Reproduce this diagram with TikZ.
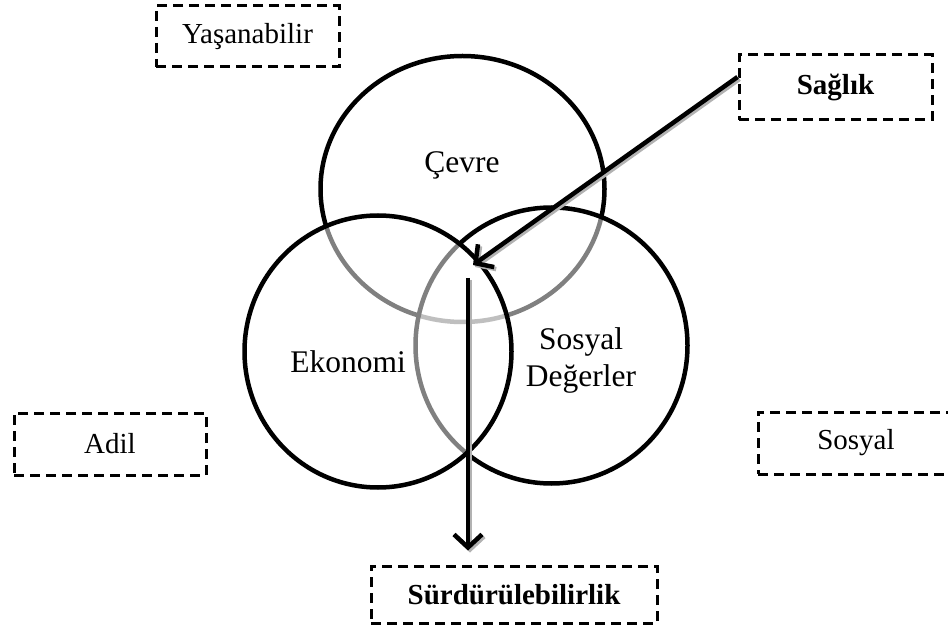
\documentclass[tikz,border=0pt]{standalone}
\usepackage{fontspec}
\setmainfont{Liberation Serif}
\usetikzlibrary{arrows.meta}
\begin{document}
\begin{tikzpicture}[x=1pt,y=-1pt,
  ring/.style={line width=4.5pt, draw=black, fill=white, fill opacity=0.5},
  tag/.style={draw=black, line width=3pt, dash pattern=on 10pt off 6pt,
    inner sep=0pt, font=\fontsize{29}{34}\selectfont},
  lbl/.style={font=\fontsize{31.5}{37}\selectfont, align=center, inner sep=0pt, anchor=base},
  flow/.style={line width=4.5pt, draw=black,
    -{Straight Barb[length=13pt,width=28pt,line width=4.5pt]}},
  flowshade/.style={flow, draw=gray!60, transform canvas={xshift=2pt,yshift=-2pt}}
]
\useasboundingbox (0,0) rectangle (948,628);

% three overlapping spheres, later ones veil the earlier outlines
\coordinate (cC) at (462.5,189);
\coordinate (cS) at (551.5,345.5);
\coordinate (cE) at (378,351.5);
\draw[ring] (cC) ellipse [x radius=142, y radius=133];
\draw[ring] (cS) ellipse [x radius=136, y radius=138];
\draw[ring] (cE) ellipse [x radius=133.5, y radius=136];

% sphere labels
\node[lbl] (cevre) at (462,173) {Çevre};
\node[lbl] (eko) at (348,373) {Ekonomi};
\node[lbl] (sos) at (581,386) {Sosyal\\Değerler};

% dashed tags
\node[tag, minimum width=183pt, minimum height=61pt] (yas) at (247.5,36.5) {Yaşanabilir};
\node[tag, minimum width=193pt, minimum height=65pt, font=\fontsize{29}{34}\selectfont\bfseries] (sag) at (835.5,87.5) {Sağlık};
\node[tag, minimum width=192pt, minimum height=62pt] (adil) at (110,444) {Adil};
\node[tag, minimum width=196pt, minimum height=62pt] (sosyal) at (856,443) {Sosyal};
\node[tag, minimum width=286pt, minimum height=57pt, font=\fontsize{29}{34}\selectfont\bfseries] (surd) at (514,594.5) {Sürdürülebilirlik};

% arrows with a soft drop shade
\coordinate (hit) at (473,265);
\coordinate (down) at (468,278);
\draw[flowshade] ([yshift=10.5pt]sag.west) -- (hit);
\draw[flow] ([yshift=10.5pt]sag.west) -- (hit);
\draw[flowshade, shorten >=14pt] (down) -- (down |- surd.north);
\draw[flow, shorten >=14pt] (down) -- (down |- surd.north);
\end{tikzpicture}
\end{document}
